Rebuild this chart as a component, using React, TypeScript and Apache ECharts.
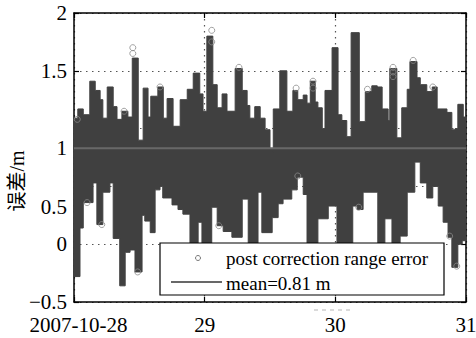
import React, { useEffect, useRef } from 'react';
import * as echarts from 'echarts';

// x axis: hours since 2007-10-28 00:00
const xTickLabels = ['2007-10-28', '29', '30', '31'];
const yAxisTitle = '误差/m';
const seriesName = 'post correction range error';
const meanName = 'mean=0.81 m';
const meanValue = 0.83;

// Upper envelope of the error band: segment start (h) and max value (m)
const upperStartH = [
  0, 0.7, 1.7, 2.9, 3.9, 4.8, 5.3, 6.1, 7.2, 7.9, 8.8, 9.9, 10.7, 11.8, 12.7, 13.6, 14.1, 15.4,
  16.4, 17.1, 18.2, 19.5, 20.8, 21.9, 23.1, 23.7, 24.4, 25.5, 26.3, 27.2, 28.1, 29.6, 30.9, 31.8,
  32.3, 33.2, 34.2, 35.1, 36.0, 36.6, 37.8, 39.1, 40.2, 41.1, 42.1, 42.8, 43.4, 44.3, 44.8, 45.6,
  46.1, 47.4, 48.5, 49.2, 50.1, 50.9, 52.4, 53.5, 54.7, 55.7, 56.6, 57.7, 58.0, 59.3, 60.2, 61.2,
  61.7, 63.0, 63.6, 64.8, 65.8, 66.7, 68.5, 69.4, 70.0, 70.5, 71.5,
];
const upperVal = [
  1.09, 1.17, 1.12, 1.41, 1.33, 1.25, 1.09, 1.36, 1.19, 1.08, 1.15, 1.10, 1.61, 0.90, 1.35, 1.10, 1.28, 1.36,
  1.09, 1.26, 1.02, 1.25, 1.34, 1.48, 1.30, 1.15, 1.80, 1.38, 1.18, 1.30, 1.15, 1.52, 1.33, 1.20,
  1.09, 1.19, 1.09, 0.99, 0.80, 1.17, 1.50, 1.15, 1.33, 1.25, 1.29, 1.22, 1.41, 1.23, 1.18, 1.00,
  1.33, 1.70, 1.12, 1.07, 0.93, 1.83, 1.06, 1.32, 1.37, 1.36, 1.17, 1.07, 1.52, 0.92, 1.18, 1.34,
  1.58, 1.44, 1.38, 1.32, 1.36, 1.17, 1.14, 0.99, 1.00, 1.21, 1.10,
];

// Lower envelope of the error band: segment start (h) and min value (m)
const lowerStartH = [
  0, 1.1, 1.7, 3.5, 4.2, 5.3, 6.6, 7.2, 8.4, 9.4, 10.3, 11.2, 12.5, 13.0, 14.0, 14.9, 15.8, 16.3,
  18.0, 19.1, 20.0, 21.3, 22.8, 23.5, 25.3, 26.3, 27.4, 29.0, 30.9, 32.0, 33.8, 34.5, 36.4, 37.5,
  38.4, 40.0, 41.0, 42.1, 42.8, 44.8, 46.7, 48.3, 51.2, 52.0, 53.1, 55.8, 57.1, 58.4, 59.9, 61.2,
  62.6, 63.6, 64.8, 65.9, 66.9, 67.8, 68.7, 69.4, 70.5, 71.3,
];
const lowerVal = [
  -0.28, 0.14, 0.36, 0.53, 0.17, 0.45, 0.53, 0.05, -0.36, -0.07, -0.05, -0.24, 0.25, 0.20, 0.10, 0.47, 0.50, 0.40,
  0.34, 0.30, 0.26, -0.20, 0.19, -0.20, 0.32, 0.16, 0.11, 0.06, 0.39, -0.20, 0.45, 0.10, 0.23, 0.35,
  0.39, 0.47, 0.58, 0.43, -0.20, 0.22, 0.33, -0.20, 0.33, 0.30, 0.45, -0.20, 0.22, -0.15, 0.07, 0.45,
  0.71, 0.53, 0.40, 0.50, 0.33, 0.19, 0.06, -0.20, 0.00, 0.03,
];

// Isolated markers visible at the band edges
const circleH = [0.6, 2.4, 5.1, 9.2, 10.8, 10.8, 11.7, 15.8, 25.3, 25.3, 26.6, 30.3, 40.8, 41.1, 43.9, 43.9, 52.3, 53.9, 58.6, 58.6, 58.6, 62.3, 65.9, 69.0, 70.3];
const circleVal = [1.08, 0.36, 0.17, 1.15, 1.70, 1.65, -0.24, 1.36, 1.85, 1.75, 0.16, 1.53, 1.35, 0.59, 1.41, 1.35, 0.32, 1.34, 1.53, 1.49, 1.45, 1.59, 1.36, 0.07, -0.19];

const X_END = 72;
const DARK = '#404040';
const SERIF = 'Liberation Serif';

// step points: each segment holds its value until the next start; closing point at X_END
function toSteps(starts: number[], vals: number[]) {
  const pts = starts.map((s, i) => [s, vals[i]]);
  pts.push([X_END, vals[vals.length - 1]]);
  return pts;
}

const fmtY = (v: number) => {
  const s = v < 0 ? '\u2212' + Math.abs(v) : String(v);
  if (v === 1) return '{one|' + s + '}';
  if (v === 0.5) return '{half|' + s + '}';
  return s;
};

const fmtX = (v: number) => {
  const i = Math.round(v / 24);
  return i === 0 ? '{first|' + xTickLabels[i] + '}' : xTickLabels[i];
};

const bandSeries = (name: string, starts: number[], vals: number[]) => ({
  name, type: 'line', step: 'end', symbol: 'none', z: 2,
  lineStyle: { color: DARK, width: 1 },
  areaStyle: { color: DARK, opacity: 1, origin: meanValue },
  data: toSteps(starts, vals),
});

export default function App() {
  const ref = useRef<HTMLDivElement>(null);
  useEffect(() => {
    document.body.style.margin = '0';
    const chart = echarts.init(ref.current!, null, { renderer: 'svg' });
    const dotted = { color: '#555', width: 1.2, type: [1.5, 4.5] as any };
    const axisLine = { show: true, onZero: false, lineStyle: { color: '#000', width: 1.5 } };
    const tick = { show: true, inside: true, length: 5, lineStyle: { color: '#000', width: 1.2 } };
    const lbl = { fontFamily: SERIF, fontSize: 21, color: '#000' };
    chart.setOption({
      animation: false,
      backgroundColor: '#fff',
      textStyle: { fontFamily: SERIF },
      grid: { left: 74, right: 10, top: 13, bottom: 36, outerBoundsMode: 'none' },
      xAxis: [
        {
          type: 'value', min: 0, max: X_END, interval: 24, position: 'bottom',
          axisLine, axisTick: tick,
          splitLine: { show: true, lineStyle: dotted },
          axisLabel: {
            ...lbl, margin: 12,
            formatter: fmtX,
            rich: { first: { ...lbl, padding: [0, 0, 0, 9] } },
          },
        },
        {
          type: 'value', min: 0, max: X_END, interval: 24, position: 'top',
          axisLine, axisTick: tick, splitLine: { show: false }, axisLabel: { show: false },
        },
      ],
      yAxis: [
        {
          type: 'value', min: -0.5, max: 2, interval: 0.5, position: 'left',
          axisLine, axisTick: tick,
          splitLine: { show: true, lineStyle: dotted },
          axisLabel: {
            ...lbl, margin: 7,
            formatter: fmtY,
            rich: {
              one: { ...lbl, padding: [38, 0, 0, 0] },
              half: { ...lbl, padding: [42, 0, 0, 0] },
            },
          },
        },
        {
          type: 'value', min: -0.5, max: 2, interval: 0.5, position: 'right',
          axisLine, axisTick: tick, splitLine: { show: false }, axisLabel: { show: false },
        },
      ],
      series: [
        bandSeries(seriesName + ' (upper)', upperStartH, upperVal),
        bandSeries(seriesName + ' (lower)', lowerStartH, lowerVal),
        {
          name: seriesName, type: 'scatter', symbol: 'circle', symbolSize: 6, z: 3,
          itemStyle: { color: 'rgba(0,0,0,0)', borderColor: '#8a8a8a', borderWidth: 1 },
          data: circleH.map((h, i) => [h, circleVal[i]]),
        },
        {
          name: meanName, type: 'line', symbol: 'none', z: 4,
          lineStyle: { color: '#686868', width: 2 },
          data: [[0, meanValue], [X_END, meanValue]],
        },
      ],
      graphic: [
        {
          type: 'text', x: 17, y: 181, rotation: Math.PI / 2,
          style: { text: yAxisTitle, fontSize: 20, fontFamily: 'Liberation Serif, Noto Sans CJK SC', fill: '#000', align: 'center', verticalAlign: 'middle' },
        },
        {
          type: 'rect', z: 100, shape: { x: 160, y: 243, width: 284, height: 52 },
          style: { fill: '#fff', stroke: '#000', lineWidth: 1.2 },
        },
        {
          type: 'circle', z: 101, shape: { cx: 198, cy: 258, r: 2.5 },
          style: { fill: 'none', stroke: '#777', lineWidth: 1 },
        },
        {
          type: 'text', z: 101, x: 226, y: 258,
          style: { text: seriesName, fontSize: 19, fontFamily: SERIF, fill: '#000', verticalAlign: 'middle' },
        },
        {
          type: 'line', z: 101, shape: { x1: 171, y1: 282, x2: 222, y2: 282 },
          style: { stroke: '#686868', lineWidth: 2 },
        },
        {
          type: 'text', z: 101, x: 226, y: 283,
          style: { text: meanName, fontSize: 19, fontFamily: SERIF, fill: '#000', verticalAlign: 'middle' },
        },
        {
          type: 'line', z: 101, shape: { x1: 314, y1: 310, x2: 350, y2: 310 },
          style: { stroke: '#b5b5b5', lineWidth: 1, lineDash: [4, 4] },
        },
      ],
    });
    return () => chart.dispose();
  }, []);
  return <div ref={ref} style={{ width: 476, height: 338 }} />;
}
